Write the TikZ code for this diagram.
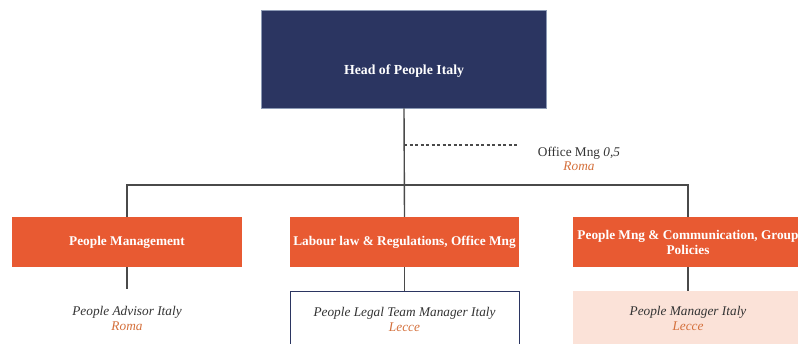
\documentclass[tikz,border=0pt]{standalone}
\usepackage{fontspec}
\setmainfont{Liberation Serif}
\usetikzlibrary{positioning}

\definecolor{headblue}{HTML}{2B3561}
\definecolor{headedge}{HTML}{8C9AB5}
\definecolor{unitorange}{HTML}{E85A32}
\definecolor{placeorange}{HTML}{D4703C}
\definecolor{rolepink}{HTML}{FBE2D8}
\definecolor{rolegray}{HTML}{333333}
\definecolor{linegray}{HTML}{4A4A4A}

\begin{document}
\begin{tikzpicture}[
    x=1pt,y=-1pt,
    headbox/.style={rectangle,draw=headedge,line width=0.8pt,fill=headblue,text=white,
        minimum width=285pt,minimum height=98pt,text height=34pt,text depth=3pt,
        font=\bfseries\fontsize{13.8}{15}\selectfont},
    unitbox/.style={rectangle,fill=unitorange,text=white,align=center,
        minimum width=230pt,minimum height=50pt,inner sep=1pt,
        font=\bfseries\fontsize{13.3}{15}\selectfont},
    rolebox/.style={rectangle,align=center,text=rolegray,
        minimum width=229pt,minimum height=55pt,
        font=\itshape\fontsize{13.3}{15}\selectfont},
    place/.style={text=placeorange},
    link/.style={draw=linegray,line width=1.4pt},
    dotlink/.style={draw=linegray,line width=1.2pt,dash pattern=on 3pt off 2.5pt}
]
\useasboundingbox (0,0) rectangle (798,343);

%--- Head ---%
\node[headbox] (head) at (404,59) {Head of People Italy};

%--- Staff position ---%
\node[align=center,text=rolegray,font=\fontsize{13.3}{14.5}\selectfont] (office) at (579,159)
    {Office Mng \textit{0,5}\\\textit{\color{placeorange}Roma}};
\coordinate (staff) at (404,145);

%--- Units ---%
\node[unitbox] (mgmt) at (127,242) {People Management};
\node[unitbox,minimum width=229pt] (law) at (404.5,242) {Labour law \& Regulations, Office Mng};
\node[unitbox] (comm) at (688,242) {People Mng \& Communication, Group\\Policies};
\coordinate (bus) at (404,185);

%--- Roles ---%
\node[rolebox,below=24pt of mgmt] (advisor) {People Advisor Italy\\{\color{placeorange}Roma}};
\node[rolebox,draw=headblue,line width=1pt,below=24pt of law] (legal) {People Legal Team Manager Italy\\{\color{placeorange}Lecce}};
\node[rolebox,fill=rolepink,minimum width=230pt,below=24pt of comm] (manager) {People Manager Italy\\{\color{placeorange}Lecce}};

%--- Connectors ---%
\draw[link] (head.south) -- (law.north);
\draw[link] (mgmt.north) |- (bus) -| (comm.north);
\draw[dotlink,shorten >=15pt] (staff) -- (office.west |- staff);

\draw[link,shorten >=2pt] (mgmt.south) -- (advisor.north);
\draw[link] (law.south) -- (legal.north);
\draw[link] (comm.south) -- (manager.north);

\end{tikzpicture}
\end{document}
